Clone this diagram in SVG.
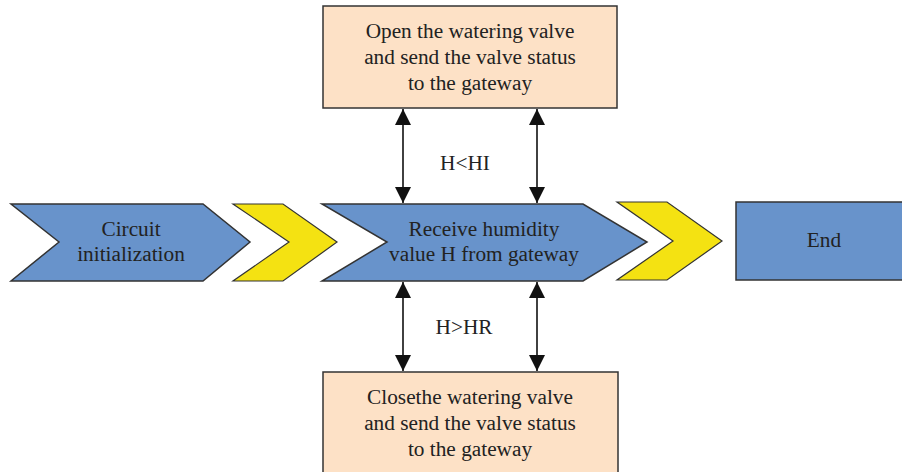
<svg xmlns="http://www.w3.org/2000/svg" width="902" height="472" viewBox="0 0 902 472">
<defs>
<style>
.blue{fill:#6893cb;stroke:#333;stroke-width:1.5;stroke-linejoin:miter}
.yel{fill:#f4e212;stroke:#333;stroke-width:1.2}
.peach{fill:#fde1c6;stroke:#333;stroke-width:1.5}
.t{font-family:"Liberation Serif","Times New Roman",serif;font-size:21.3px;fill:#222;text-anchor:middle}
.c{stroke:#111;stroke-width:1.6;fill:none;marker-start:url(#ah);marker-end:url(#ah)}
</style>
<marker id="ah" viewBox="0 0 10 10" refX="10" refY="5" markerWidth="24" markerHeight="16" markerUnits="userSpaceOnUse" orient="auto-start-reverse">
<path d="M0,0 L10,5 L0,10 z" fill="#111"/>
</marker>
</defs>
<rect width="902" height="472" fill="#fff"/>
<g id="init">
<polygon class="blue" points="11,204 203,204 250,242 203,281 11,281 59,242"/>
<text class="t" x="131" y="236">Circuit</text>
<text class="t" x="131" y="261">initialization</text>
</g>
<g id="chev1">
<polygon class="yel" points="233,204 283,204 337,242 283,281 233,281 289,242"/>
</g>
<g id="receive">
<polygon class="blue" points="322,204 583,204 647,242 583,281 322,281 387,242"/>
<text class="t" x="484" y="236">Receive humidity</text>
<text class="t" x="484" y="261">value H from gateway</text>
</g>
<g id="chev2">
<polygon class="yel" points="617,202 667,202 722,241 667,280 617,280 673,241"/>
</g>
<g id="end">
<rect class="blue" x="736" y="202" width="180" height="78"/>
<text class="t" x="824" y="247">End</text>
</g>
<g id="open">
<rect class="peach" x="323" y="6" width="294" height="102"/>
<text class="t" x="470" y="38">Open the watering valve</text>
<text class="t" x="470" y="64">and send the valve status</text>
<text class="t" x="470" y="90">to the gateway</text>
</g>
<g id="close">
<rect class="peach" x="323" y="372" width="295" height="110"/>
<text class="t" x="470" y="404">Closethe watering valve</text>
<text class="t" x="470" y="430">and send the valve status</text>
<text class="t" x="470" y="456">to the gateway</text>
</g>
<g id="connectors">
<line class="c" x1="403" y1="109" x2="403" y2="203"/>
<line class="c" x1="537" y1="109" x2="537" y2="203"/>
<line class="c" x1="403" y1="282" x2="403" y2="371"/>
<line class="c" x1="537" y1="282" x2="537" y2="371"/>
<text class="t" x="465" y="170">H&lt;HI</text>
<text class="t" x="464" y="334">H&gt;HR</text>
</g>
</svg>
